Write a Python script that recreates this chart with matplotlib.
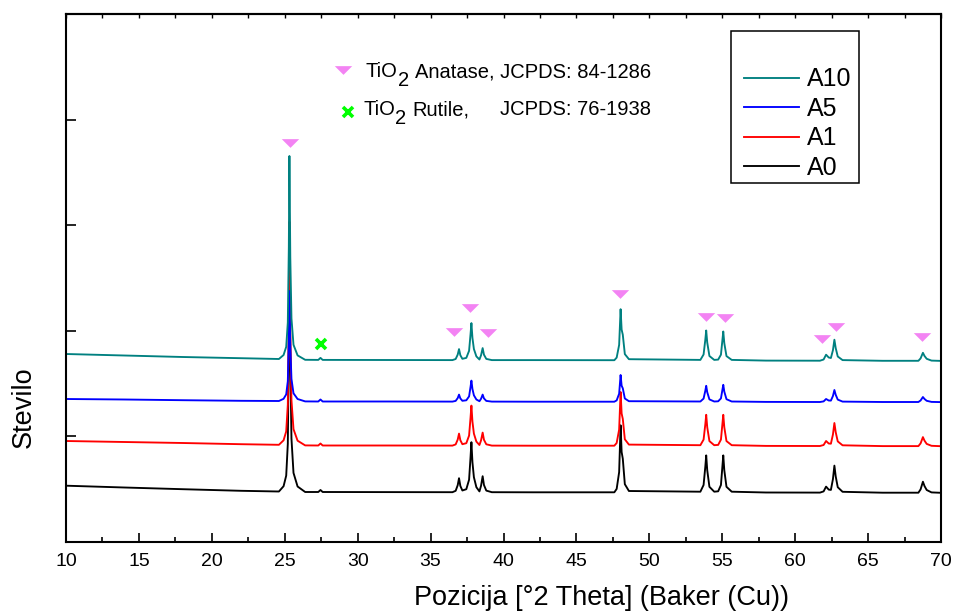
import numpy as np
import matplotlib
matplotlib.use('Agg')
import matplotlib.pyplot as plt
from matplotlib.ticker import MultipleLocator, NullFormatter
from matplotlib.path import Path
from matplotlib.patches import Rectangle
from matplotlib.lines import Line2D

plt.rcParams['font.family'] = ['Liberation Sans', 'DejaVu Sans']

# 2theta grid (deg) shared by all four patterns
TWO_THETA = [10, 14, 18, 22, 24.6,
             24.92, 25.1, 25.21, 25.28, 25.32, 25.38, 25.46, 25.6, 25.88, 26.4,
             27.3, 27.45, 27.6,
             32, 36.5,
             36.72, 36.86, 36.95, 37.04, 37.18,
             37.45, 37.64, 37.74, 37.8, 37.87, 37.97, 38.14,
             38.35, 38.46, 38.57, 38.66, 38.82, 39.2,
             42, 47.6,
             47.76, 47.93, 48.03, 48.1, 48.18, 48.32, 48.6,
             53.5, 53.72, 53.84, 53.9, 53.97, 54.12, 54.45,
             54.72, 54.91, 55.01, 55.07, 55.14, 55.29, 55.65,
             58, 61.7,
             61.95, 62.12, 62.3, 62.45, 62.59, 62.69, 62.78, 62.92, 63.25,
             66, 68.45,
             68.6, 68.76, 68.87, 69.02, 69.35, 70]

# intensities (stacked, arbitrary counts)
A10 = [1880, 1865, 1850, 1838, 1830,
       1870, 1952, 2195, 2947, 3860, 2845, 2236, 1972, 1866, 1822,
       1821, 1841, 1821,
       1820, 1819,
       1830, 1874, 1929, 1868, 1832,
       1841, 1912, 2078, 2189, 2041, 1930, 1856,
       1825, 1867, 1939, 1873, 1831, 1819,
       1819, 1818,
       1844, 1971, 2328, 2124, 2073, 1879, 1828,
       1821, 1875, 2025, 2115, 1995, 1860, 1821,
       1824, 1873, 2018, 2105, 1989, 1859, 1821,
       1814, 1813,
       1825, 1873, 1845, 1840, 1918, 2023, 1939, 1855, 1819,
       1812, 1812,
       1836, 1892, 1860, 1832, 1814, 1811]

A5 = [1430, 1425, 1418, 1412, 1410,
      1432, 1476, 1608, 2015, 2510, 1960, 1630, 1487, 1430, 1406,
      1405, 1425, 1405,
      1405, 1404,
      1411, 1439, 1474, 1436, 1412,
      1417, 1456, 1551, 1614, 1530, 1467, 1425,
      1408, 1432, 1474, 1436, 1411, 1404,
      1403, 1403,
      1416, 1483, 1670, 1563, 1537, 1435, 1408,
      1405, 1434, 1514, 1562, 1498, 1426, 1405,
      1407, 1436, 1521, 1572, 1504, 1428, 1405,
      1401, 1400,
      1406, 1430, 1415, 1414, 1460, 1520, 1472, 1424, 1404,
      1400, 1400,
      1415, 1450, 1430, 1412, 1401, 1399]

A1 = [1010, 1000, 990, 978, 972,
      1017, 1106, 1373, 2199, 3202, 2087, 1418, 1128, 1013, 966,
      965, 985, 965,
      965, 964,
      976, 1024, 1084, 1018, 978,
      988, 1064, 1244, 1364, 1204, 1084, 1004,
      970, 1016, 1094, 1022, 977, 964,
      963, 963,
      990, 1124, 1500, 1285, 1231, 1027, 974,
      968, 1024, 1179, 1272, 1148, 1009, 968,
      971, 1024, 1179, 1272, 1148, 1009, 968,
      961, 960,
      970, 1010, 985, 983, 1075, 1190, 1098, 1006, 967,
      959, 959,
      986, 1049, 1013, 981, 962, 958]

A0 = [563, 545, 528, 512, 505,
      558, 664, 982, 1963, 3155, 1830, 1035, 691, 555, 500,
      500, 520, 500,
      499, 498,
      512, 568, 638, 561, 515,
      528, 623, 848, 998, 798, 648, 548,
      506, 562, 658, 570, 514, 498,
      497, 497,
      531, 699, 1167, 900, 833, 578, 510,
      503, 570, 755, 866, 718, 552, 503,
      507, 570, 755, 866, 718, 552, 503,
      495, 494,
      506, 554, 524, 521, 629, 764, 656, 548, 502,
      493, 493,
      526, 603, 559, 520, 496, 492]

# phase markers
ANATASE_X = [25.36, 36.63, 37.70, 38.95, 48.01, 53.89, 55.19, 61.83, 62.82, 68.67]
ANATASE_Y = [3993, 2103, 2340, 2087, 2480, 2253, 2243, 2030, 2153, 2053]
RUTILE_X = [27.51]
RUTILE_Y = [1980]

W, H = 956, 615
PINK = '#F383F3'
fig = plt.figure(figsize=(W / 100, H / 100), dpi=100)
ax = fig.add_axes([66 / W, 1 - 542 / H, (941 - 66) / W, (542 - 14) / H])

series = [('A0', A0, 'black'), ('A1', A1, '#FF0000'),
          ('A5', A5, '#0000FF'), ('A10', A10, '#008080')]
lines = {}
for name, ys, col in series:
    lines[name], = ax.plot(TWO_THETA, ys, color=col, lw=1.35)

tri = Path([(-1, 0.5), (1, 0.5), (0, -0.5), (-1, 0.5)],
           [Path.MOVETO, Path.LINETO, Path.LINETO, Path.CLOSEPOLY])
ax.plot(ANATASE_X, ANATASE_Y, ls='none', marker=tri, ms=12.5, color=PINK, mec='none')
ax.plot(RUTILE_X, RUTILE_Y, ls='none', marker='x', ms=7.5, mew=2.6, color='#00FF00')

ax.set_xlim(10, 70)
ax.set_ylim(0, 5280)
ax.xaxis.set_major_locator(MultipleLocator(5))
ax.xaxis.set_minor_locator(MultipleLocator(2.5))
ax.yaxis.set_major_locator(MultipleLocator(1056))
ax.yaxis.set_major_formatter(NullFormatter())
ax.tick_params(axis='x', which='major', direction='in', length=6.5, width=1.2,
               labelsize=14, pad=8)
ax.tick_params(axis='x', which='minor', direction='in', length=3.5, width=1.2)
ax.tick_params(axis='y', direction='in', length=7, width=1.2)
for s in ax.spines.values():
    s.set_linewidth(1.5)

top = ax.secondary_xaxis('top')
top.set_xticks(np.arange(10, 70.1, 2.5))
top.tick_params(direction='in', length=3, width=1.0, labeltop=False)
top.spines['top'].set_linewidth(1.5)

fig.text(601 / W, 1 - 598 / H, 'Pozicija [°2 Theta] (Baker (Cu))', fontsize=19.5,
         ha='center', va='center')
fig.text(24 / W, 1 - 407 / H, 'Stevilo', fontsize=19.5, rotation=90,
         ha='center', va='center')

# legend box
handles = [lines['A10'], lines['A5'], lines['A1'], lines['A0']]
fig.legend(handles, ['A10', 'A5', 'A1', 'A0'], loc='center left',
           bbox_to_anchor=(744 / W, 1 - 123.5 / H), bbox_transform=fig.transFigure,
           frameon=False, fontsize=18, handlelength=2.2, handletextpad=0.3,
           labelspacing=0.22, borderpad=0, borderaxespad=0)
fig.add_artist(Rectangle((731 / W, 1 - 183 / H), 128 / W, 152 / H,
                         transform=fig.transFigure, fill=False, lw=1.1, ec='black'))

# phase key
renderer = fig.canvas.get_renderer()


def key_text(x0, base, parts, size=14.5):
    x = x0
    for txt, dy, gap in parts:
        t = fig.text(x / W, 1 - (base + dy) / H, txt, fontsize=size,
                     ha='left', va='baseline')
        x += t.get_window_extent(renderer).width + gap


key_text(366, 77, [('TiO', 0, 0), ('2', 9, 6), ('Anatase, JCPDS: 84-1286', 0, 0)])
key_text(363, 115.5, [('TiO', 0, 0), ('2', 9, 6), ('Rutile,', 0, 0)])
key_text(500, 115.5, [('JCPDS: 76-1938', 0, 0)])
fig.add_artist(Line2D([343 / W], [1 - 70 / H], ls='none', marker=tri, ms=12.5,
                      color=PINK, mec='none'))
fig.add_artist(Line2D([348 / W], [1 - 112 / H], ls='none', marker='x', ms=7.5,
                      mew=2.6, color='#00FF00'))

fig.savefig('out.png', dpi=100)
